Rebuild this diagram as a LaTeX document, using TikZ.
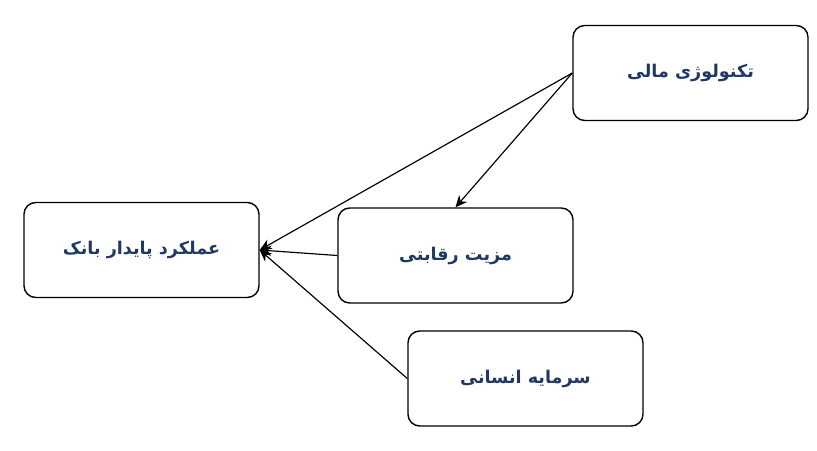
\documentclass[tikz,border=0pt]{standalone}
\usepackage{fontspec}
\newfontfamily\arabicfont[Script=Arabic]{DejaVu Sans}
\TeXXeTstate=1
\usetikzlibrary{positioning,arrows.meta}
\definecolor{navy}{HTML}{1F3864}

\begin{document}
\begin{tikzpicture}[x=0.03cm,y=-0.03cm,
    factor/.style={draw, line width=1.2pt, rounded corners=10pt, minimum width=7.05cm,
        minimum height=2.85cm, font=\arabicfont\bfseries\fontsize{15}{18}\selectfont, text=navy},
    link/.style={line width=1pt, -{Stealth[length=10pt,width=9pt]}}]
    \useasboundingbox (0,0) rectangle (817,451);

    % Boxes
    \node[factor] (fintech) at (690.5,73) {\beginR تکنولوژی مالی\endR};
    \node[factor] (perf) at (141.5,250) {\beginR عملکرد پایدار بانک\endR};
    \node[factor] (edge) at (455.5,255.5) {\beginR مزیت رقابتی\endR};
    \node[factor] (human) at (525.5,378.5) {\beginR سرمایه انسانی\endR};

    % Arrows
    \draw[link] (fintech.west) -- (perf.east);
    \draw[link] (fintech.west) -- (edge.north);
    \draw[link] (edge.west) -- (perf.east);
    \draw[link] (human.west) -- (perf.east);
\end{tikzpicture}
\end{document}
